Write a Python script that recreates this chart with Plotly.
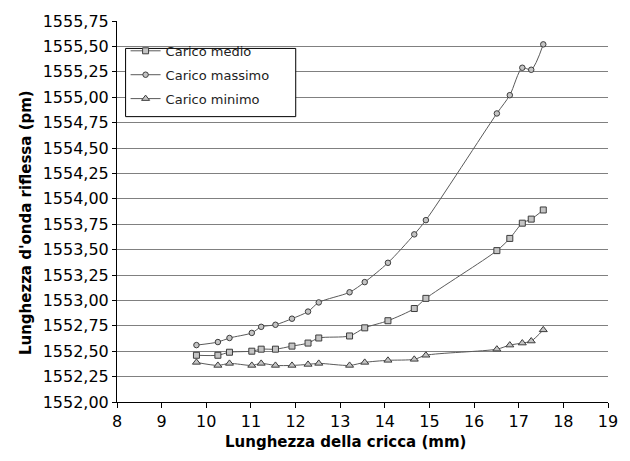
import plotly.graph_objects as go

# Crack length (mm) at each measurement
lunghezza_cricca = [9.78, 10.26, 10.52, 11.02, 11.23, 11.55, 11.92, 12.28, 12.52,
                    13.21, 13.55, 14.07, 14.66, 14.92, 16.51, 16.80, 17.08, 17.28, 17.55]

# Reflected wavelength (pm) for each load level
carico_medio = [1552.46, 1552.46, 1552.49, 1552.50, 1552.52, 1552.52, 1552.55, 1552.58, 1552.63,
                1552.65, 1552.73, 1552.80, 1552.92, 1553.02, 1553.49, 1553.61, 1553.76, 1553.80, 1553.89]
carico_massimo = [1552.56, 1552.59, 1552.63, 1552.68, 1552.74, 1552.76, 1552.82, 1552.89, 1552.98,
                  1553.08, 1553.18, 1553.37, 1553.65, 1553.79, 1554.84, 1555.02, 1555.29, 1555.27, 1555.52]
carico_minimo = [1552.39, 1552.36, 1552.38, 1552.36, 1552.38, 1552.36, 1552.36, 1552.37, 1552.38,
                 1552.36, 1552.39, 1552.41, 1552.42, 1552.46, 1552.52, 1552.56, 1552.58, 1552.60, 1552.71]

serie = [
    ("Carico medio", carico_medio, "square", 6),
    ("Carico massimo", carico_massimo, "circle", 5.5),
    ("Carico minimo", carico_minimo, "triangle-up", 7),
]

FONT = "DejaVu Sans"
LINE = "#5a5a5a"

fig = go.Figure()
for i, (nome, valori, simbolo, dim) in enumerate(serie):
    fig.add_trace(go.Scatter(
        x=lunghezza_cricca, y=valori, name=nome, mode="lines+markers",
        legendgroup=f"g{i}",
        line=dict(color=LINE, width=1, shape="spline", smoothing=0.8),
        marker=dict(symbol=simbolo, size=dim, color="#c4c4c4",
                    line=dict(color="#3c3c3c", width=1)),
    ))

fig.update_layout(
    width=630, height=461,
    margin=dict(l=117, r=16, t=15, b=59),
    paper_bgcolor="white", plot_bgcolor="white",
    separators=",.",
    font=dict(family=FONT, size=16, color="black"),
    showlegend=True,
    legend=dict(
        x=0.0175, y=0.961, xanchor="left", yanchor="top",
        bgcolor="rgba(0,0,0,0)", borderwidth=0,
        font=dict(family=FONT, size=13, color="#222222"),
        itemwidth=30, tracegroupgap=4,
    ),
    # legend frame
    shapes=[
        dict(type="rect", xref="paper", yref="paper",
             x0=0.0175, x1=0.364, y0=0.749, y1=0.928,
             line=dict(color="black", width=1), fillcolor="white", layer="above"),
    ],
    xaxis=dict(
        range=[8, 19], dtick=1, tick0=8, showgrid=False, zeroline=False,
        showline=True, linecolor="black", linewidth=1,
        ticks="outside", ticklen=5, tickcolor="black",
        tickfont=dict(family=FONT, size=16, color="black"),
    ),
    yaxis=dict(
        range=[1552.0, 1555.75], dtick=0.25, tick0=1552.0, tickformat=".2f",
        showgrid=True, gridcolor="#808080", gridwidth=1, zeroline=False,
        showline=True, linecolor="black", linewidth=1,
        ticks="outside", ticklen=4, tickcolor="black",
        tickfont=dict(family=FONT, size=16, color="black"),
    ),
    annotations=[
        dict(text="<b>Lunghezza della cricca (mm)</b>", xref="paper", yref="paper",
             x=0.465, y=-0.105, xanchor="center", yanchor="middle", showarrow=False,
             font=dict(family=FONT, size=15, color="black")),
        dict(text="<b>Lunghezza d'onda riflessa (pm)</b>", xref="paper", yref="paper",
             x=-0.185, y=0.47, xanchor="center", yanchor="middle", showarrow=False,
             textangle=-90, font=dict(family=FONT, size=15, color="black")),
    ],
)

fig.write_html("out.html")
